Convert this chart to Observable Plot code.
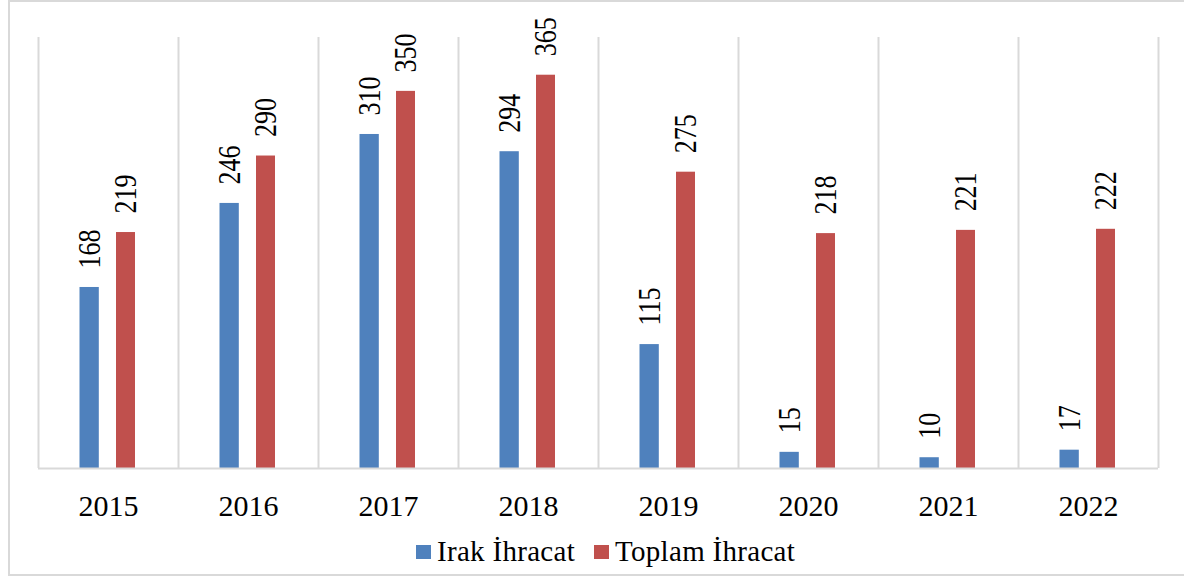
<!DOCTYPE html>
<html>
<head>
<meta charset="utf-8">
<script src="https://cdn.jsdelivr.net/npm/d3@7"></script>
<script src="https://cdn.jsdelivr.net/npm/@observablehq/plot@0.6"></script>
<style>
  html, body { margin: 0; padding: 0; background: #fff; width: 1184px; height: 576px; overflow: hidden; }
  #frame { position: absolute; left: 8px; top: 0; width: 1184px; height: 576px; box-sizing: border-box;
           border: 2px solid #d9d9d9; pointer-events: none; }
  #chart { position: absolute; left: 0; top: 0; }
  #legend { position: absolute; left: 416px; top: 535px; display: flex; align-items: center;
            font-family: "Liberation Serif", "Times New Roman", serif; font-size: 29px; color: #000; white-space: nowrap;
            letter-spacing: 0.3px; }
  .sw { width: 15px; height: 14px; display: inline-block; margin-right: 6px; }
  .item { display: flex; align-items: center; margin-right: 19px; }
</style>
</head>
<body>
<div id="chart"></div>
<div id="legend"></div>
<div id="frame"></div>
<script>
const years = ["2015", "2016", "2017", "2018", "2019", "2020", "2021", "2022"];
const irak = [168, 246, 310, 294, 115, 15, 10, 17];
const toplam = [219, 290, 350, 365, 275, 218, 221, 222];
const seriesNames = ["Irak İhracat", "Toplam İhracat"];
const colors = ["#4f81bd", "#c0504d"];

const dataIrak = years.map((y, i) => ({year: y, value: irak[i]}));
const dataToplam = years.map((y, i) => ({year: y, value: toplam[i]}));

const font = "'Liberation Serif', 'Times New Roman', serif";
const grid = "#d9d9d9";

const chart = Plot.plot({
  width: 1184,
  height: 530,
  marginLeft: 38,
  marginRight: 26,
  marginTop: 37,
  marginBottom: 62,
  style: {fontFamily: font, background: "transparent", overflow: "visible"},
  x: {domain: years, padding: 0, label: null},
  y: {domain: [0, 400], axis: null},
  marks: [
    Plot.ruleX(years, {x: d => d, dx: -70, stroke: grid, strokeWidth: 2}),
    Plot.ruleX(years.slice(-1), {x: d => d, dx: 70, stroke: grid, strokeWidth: 2}),
    Plot.barY(dataIrak, {x: "year", y: "value", fill: colors[0], insetLeft: 41.5, insetRight: 79.2}),
    Plot.barY(dataToplam, {x: "year", y: "value", fill: colors[1], insetLeft: 78, insetRight: 43}),
    Plot.ruleY([0], {stroke: grid, strokeWidth: 2}),
    Plot.text(dataIrak, {x: "year", y: "value", text: d => String(d.value), rotate: -90, textAnchor: "start",
      lineAnchor: "middle", dx: -18.5, dy: -19, fontSize: 26, fill: "#000", fontFamily: font, className: "vlabel"}),
    Plot.text(dataToplam, {x: "year", y: "value", text: d => String(d.value), rotate: -90, textAnchor: "start",
      lineAnchor: "middle", dx: 17.5, dy: -19, fontSize: 26, fill: "#000", fontFamily: font, className: "vlabel"}),
    Plot.axisX({tickSize: 0, tickPadding: 26, fontSize: 30, fill: "#000", label: null, fontFamily: font,
      style: {letterSpacing: "4px"}})
  ]
});
document.getElementById("chart").appendChild(chart);

// slightly widen the rotated value labels' glyphs, as in the reference rendering
chart.querySelectorAll(".vlabel text").forEach(t => {
  const tr = t.getAttribute("transform") || "";
  t.setAttribute("transform", tr + " scale(1,1.2)");
});

const legend = document.getElementById("legend");
seriesNames.forEach((name, i) => {
  const item = document.createElement("div");
  item.className = "item";
  const sw = document.createElement("span");
  sw.className = "sw";
  sw.style.background = colors[i];
  const label = document.createElement("span");
  label.textContent = name;
  item.appendChild(sw);
  item.appendChild(label);
  legend.appendChild(item);
});
</script>
</body>
</html>
